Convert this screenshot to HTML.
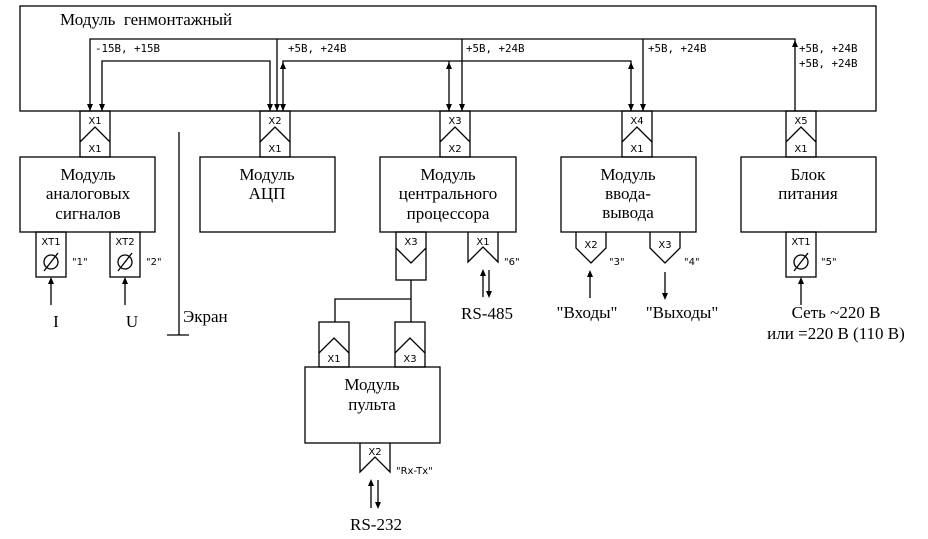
<!DOCTYPE html>
<html><head><meta charset="utf-8"><style>
html,body{margin:0;padding:0;background:#fff;}
svg{display:block}
.s{font-family:"Liberation Serif","DejaVu Serif",serif;font-size:17px;fill:#000}
.m{font-family:"DejaVu Sans Mono","Liberation Mono",monospace;font-size:10.8px;fill:#000}
.c{font-family:"DejaVu Sans","Liberation Sans",sans-serif;font-size:10px;fill:#000}
</style></head><body>
<svg width="928" height="539" viewBox="0 0 928 539" xmlns="http://www.w3.org/2000/svg">
<g fill="none" stroke="#000" stroke-width="1.3">
<rect x="20" y="6" width="856" height="105"/>
<polyline points="90,111 90,39 795,39 795,111"/>
<line x1="277" y1="39" x2="277" y2="111"/>
<line x1="462" y1="39" x2="462" y2="111"/>
<line x1="643" y1="39" x2="643" y2="111"/>
<polyline points="102,111 102,61 270,61 270,111"/>
<polyline points="283,111 283,61 631,61 631,111"/>
<line x1="449" y1="61" x2="449" y2="111"/>
</g>
<g fill="#000">
<path d="M87,104 L93,104 L90,111z"/><path d="M99,104 L105,104 L102,111z"/>
<path d="M267,104 L273,104 L270,111z"/><path d="M274,104 L280,104 L277,111z"/>
<path d="M280,104 L286,104 L283,111z"/><path d="M280,69 L286,69 L283,62z"/>
<path d="M446,104 L452,104 L449,111z"/><path d="M446,69 L452,69 L449,62z"/>
<path d="M459,104 L465,104 L462,111z"/>
<path d="M628,104 L634,104 L631,111z"/><path d="M628,69 L634,69 L631,62z"/>
<path d="M640,104 L646,104 L643,111z"/>
<path d="M792,47 L798,47 L795,40z"/>
</g>
<text class="s" x="60" y="25">Модуль&#160; генмонтажный</text>
<text class="m" x="95" y="52">-15В, +15В</text>
<text class="m" x="288" y="52">+5В, +24В</text>
<text class="m" x="466" y="52">+5В, +24В</text>
<text class="m" x="648" y="52">+5В, +24В</text>
<text class="m" x="799" y="52">+5В, +24В</text>
<text class="m" x="799" y="67">+5В, +24В</text>

<g fill="none" stroke="#000" stroke-width="1.3">
<rect x="80" y="111" width="30" height="46"/><polyline points="80,142 95,127 110,142"/>
<rect x="260" y="111" width="30" height="46"/><polyline points="260,142 275,127 290,142"/>
<rect x="440" y="111" width="30" height="46"/><polyline points="440,142 455,127 470,142"/>
<rect x="622" y="111" width="30" height="46"/><polyline points="622,142 637,127 652,142"/>
<rect x="786" y="111" width="30" height="46"/><polyline points="786,142 801,127 816,142"/>
<rect x="20" y="157" width="135" height="75"/>
<rect x="200" y="157" width="135" height="75"/>
<rect x="380" y="157" width="136" height="75"/>
<rect x="561" y="157" width="135" height="75"/>
<rect x="741" y="157" width="135" height="75"/>
<rect x="36" y="232" width="30" height="45"/>
<rect x="110" y="232" width="30" height="45"/>
<rect x="786" y="232" width="30" height="45"/>
<line x1="179" y1="132" x2="179" y2="335"/><line x1="167" y1="335" x2="189" y2="335"/>
<rect x="396" y="232" width="30" height="48"/><polyline points="396,248 411,263 426,248"/>
<polyline points="468,232 468,262 483,247 498,262 498,232"/>
<polyline points="576,232 576,248 591,263 606,248 606,232"/>
<polyline points="650,232 650,248 665,263 680,248 680,232"/>
<polyline points="411,280 411,322"/><polyline points="335,322 335,299 411,299"/>
<rect x="319" y="322" width="30" height="45"/><polyline points="319,353 334,338 349,353"/>
<rect x="395" y="322" width="30" height="45"/><polyline points="395,353 410,338 425,353"/>
<rect x="305" y="367" width="135" height="76"/>
<polyline points="360,443 360,472 375,457 390,472 390,443"/>
<line x1="51" y1="305" x2="51" y2="283"/><line x1="125" y1="305" x2="125" y2="283"/>
<line x1="483" y1="297" x2="483" y2="275"/><line x1="489" y1="270" x2="489" y2="292"/>
<line x1="590" y1="298" x2="590" y2="276"/><line x1="665" y1="272" x2="665" y2="294"/>
<line x1="801" y1="305" x2="801" y2="283"/>
<line x1="371" y1="508" x2="371" y2="485"/><line x1="378" y1="480" x2="378" y2="503"/>
<circle cx="51" cy="262" r="7"/><line x1="44" y1="271" x2="58" y2="253"/>
<circle cx="125" cy="262" r="7"/><line x1="118" y1="271" x2="132" y2="253"/>
<circle cx="801" cy="262" r="7"/><line x1="794" y1="271" x2="808" y2="253"/>
</g>
<g fill="#000">
<path d="M48,284 L54,284 L51,277z"/><path d="M122,284 L128,284 L125,277z"/>
<path d="M480,276 L486,276 L483,269z"/><path d="M486,291 L492,291 L489,298z"/>
<path d="M587,277 L593,277 L590,270z"/><path d="M662,293 L668,293 L665,300z"/>
<path d="M798,284 L804,284 L801,277z"/>
<path d="M368,486 L374,486 L371,479z"/><path d="M375,502 L381,502 L378,509z"/>
</g>
<g class="c" text-anchor="middle">
<text x="95" y="124">X1</text><text x="95" y="152">X1</text>
<text x="275" y="124">X2</text><text x="275" y="152">X1</text>
<text x="455" y="124">X3</text><text x="455" y="152">X2</text>
<text x="637" y="124">X4</text><text x="637" y="152">X1</text>
<text x="801" y="124">X5</text><text x="801" y="152">X1</text>
<text x="51" y="245">XT1</text><text x="125" y="245">XT2</text><text x="801" y="245">XT1</text>
<text x="411" y="245">X3</text><text x="483" y="245">X1</text>
<text x="591" y="248">X2</text><text x="665" y="248">X3</text>
<text x="334" y="362">X1</text><text x="410" y="362">X3</text>
<text x="375" y="455">X2</text>
</g>
<g class="c">
<text x="72" y="265">"1"</text><text x="146" y="265">"2"</text>
<text x="504" y="265">"6"</text><text x="609" y="265">"3"</text><text x="684" y="265">"4"</text>
<text x="821" y="265">"5"</text><text x="396" y="474">"Rx-Tx"</text>
</g>
<g class="s" text-anchor="middle">
<text x="88" y="180">Модуль</text><text x="88" y="199">аналоговых</text><text x="88" y="219">сигналов</text>
<text x="267" y="180">Модуль</text><text x="267" y="199">АЦП</text>
<text x="448" y="180">Модуль</text><text x="448" y="199">центрального</text><text x="448" y="219">процессора</text>
<text x="628" y="180">Модуль</text><text x="628" y="199">ввода-</text><text x="628" y="218">вывода</text>
<text x="808" y="180">Блок</text><text x="808" y="199">питания</text>
<text x="372" y="390">Модуль</text><text x="372" y="410">пульта</text>
<text x="56" y="327">I</text><text x="132" y="327">U</text>
<text x="487" y="319">RS-485</text>
<text x="587" y="318">"Входы"</text><text x="682" y="318">"Выходы"</text>
<text x="836" y="318">Сеть ~220 В</text><text x="836" y="339">или =220 В (110 В)</text>
<text x="376" y="530">RS-232</text>
</g>
<text class="s" x="183" y="322">Экран</text>
</svg>
</body></html>
